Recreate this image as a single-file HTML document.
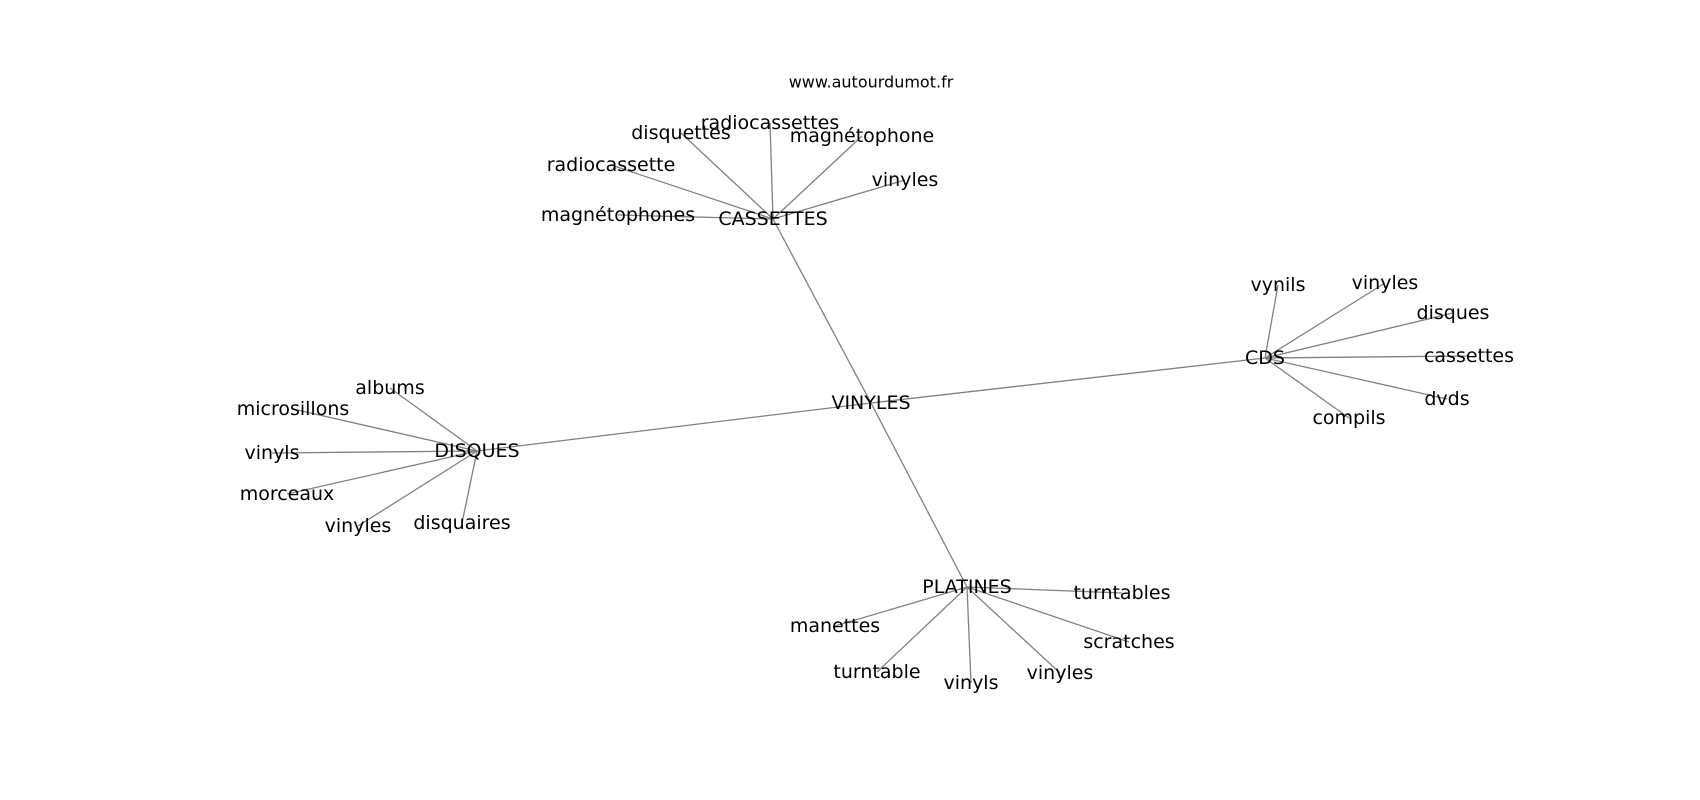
<!DOCTYPE html>
<html><head><meta charset="utf-8"><style>
html,body{margin:0;padding:0;background:#fff;}
svg{display:block;}
text{font-family:"DejaVu Sans","Liberation Sans",sans-serif;font-size:19px;fill:#000;text-anchor:middle;dominant-baseline:central;}
line{stroke:#808080;stroke-width:1.3;}
</style></head><body>
<svg width="1700" height="800" viewBox="0 0 1700 800" xmlns="http://www.w3.org/2000/svg">
<g>
<line x1="871" y1="403" x2="773" y2="219"/>
<line x1="871" y1="403" x2="1265" y2="358"/>
<line x1="871" y1="403" x2="477" y2="451"/>
<line x1="871" y1="403" x2="967" y2="587"/>
<line x1="773" y1="219" x2="681" y2="133"/>
<line x1="773" y1="219" x2="770" y2="123"/>
<line x1="773" y1="219" x2="862" y2="136"/>
<line x1="773" y1="219" x2="905" y2="180"/>
<line x1="773" y1="219" x2="611" y2="165"/>
<line x1="773" y1="219" x2="618" y2="215"/>
<line x1="1265" y1="358" x2="1278" y2="285"/>
<line x1="1265" y1="358" x2="1385" y2="283"/>
<line x1="1265" y1="358" x2="1453" y2="313"/>
<line x1="1265" y1="358" x2="1469" y2="356"/>
<line x1="1265" y1="358" x2="1447" y2="399"/>
<line x1="1265" y1="358" x2="1349" y2="418"/>
<line x1="477" y1="451" x2="390" y2="388"/>
<line x1="477" y1="451" x2="293" y2="409"/>
<line x1="477" y1="451" x2="272" y2="453"/>
<line x1="477" y1="451" x2="287" y2="494"/>
<line x1="477" y1="451" x2="358" y2="526"/>
<line x1="477" y1="451" x2="462" y2="523"/>
<line x1="967" y1="587" x2="1122" y2="593"/>
<line x1="967" y1="587" x2="835" y2="626"/>
<line x1="967" y1="587" x2="1129" y2="642"/>
<line x1="967" y1="587" x2="877" y2="672"/>
<line x1="967" y1="587" x2="971" y2="683"/>
<line x1="967" y1="587" x2="1060" y2="673"/>
</g>
<text x="871" y="82" style="font-size:16px">www.autourdumot.fr</text>
<text x="871" y="403">VINYLES</text>
<text x="773" y="219">CASSETTES</text>
<text x="1265" y="358">CDS</text>
<text x="477" y="451">DISQUES</text>
<text x="967" y="587">PLATINES</text>
<text x="681" y="133">disquettes</text>
<text x="770" y="123">radiocassettes</text>
<text x="862" y="136">magnétophone</text>
<text x="905" y="180">vinyles</text>
<text x="611" y="165">radiocassette</text>
<text x="618" y="215">magnétophones</text>
<text x="1278" y="285">vynils</text>
<text x="1385" y="283">vinyles</text>
<text x="1453" y="313">disques</text>
<text x="1469" y="356">cassettes</text>
<text x="1447" y="399">dvds</text>
<text x="1349" y="418">compils</text>
<text x="390" y="388">albums</text>
<text x="293" y="409">microsillons</text>
<text x="272" y="453">vinyls</text>
<text x="287" y="494">morceaux</text>
<text x="358" y="526">vinyles</text>
<text x="462" y="523">disquaires</text>
<text x="1122" y="593">turntables</text>
<text x="835" y="626">manettes</text>
<text x="1129" y="642">scratches</text>
<text x="877" y="672">turntable</text>
<text x="971" y="683">vinyls</text>
<text x="1060" y="673">vinyles</text>
</svg>
</body></html>
